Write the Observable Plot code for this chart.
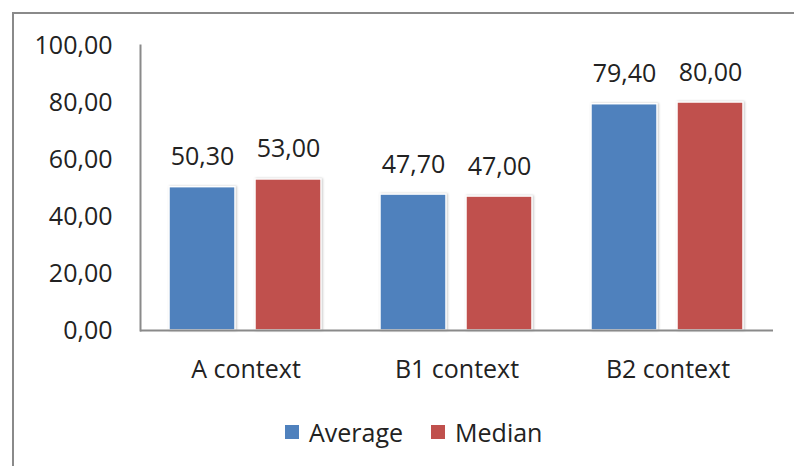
<!DOCTYPE html>
<html>
<head>
<meta charset="utf-8">
<script src="https://cdn.jsdelivr.net/npm/d3@7"></script>
<script src="https://cdn.jsdelivr.net/npm/@observablehq/plot@0.6"></script>
<style>
  body { margin: 0; background: #fff; }
  #wrap { position: relative; width: 794px; height: 466px; overflow: hidden; font-family: "Open Sans", sans-serif; }
  #border { position: absolute; left: 12px; top: 12px; width: 800px; height: 470px; border-top: 2px solid #8a8a8a; border-left: 2px solid #8a8a8a; pointer-events: none; }
  #chart { position: absolute; left: 0; top: 0; }
  .bars rect { filter: drop-shadow(1.5px 0px 1px rgba(0,0,0,0.22)); }
  #legend { position: absolute; top: 415px; left: 285px; display: flex; align-items: center; font-size: 25px; color: #222; }
  #legend .sw { width: 14px; height: 14px; display: inline-block; margin-right: 10px; }
  #legend .item { display: flex; align-items: center; margin-right: 28px; }
</style>
</head>
<body>
<div id="wrap">
  <div id="chart"></div>
  <div id="legend"></div>
  <div id="border"></div>
</div>
<script>
const categories = ["A context", "B1 context", "B2 context"];
const seriesNames = ["Average", "Median"];
const averageValues = [50.3, 47.7, 79.4];
const medianValues = [53.0, 47.0, 80.0];
const yTicks = [0, 20, 40, 60, 80, 100];
const colors = ["#4F81BD", "#C0504D"];

const data = [];
categories.forEach((c, i) => {
  data.push({context: c, series: "Average", value: averageValues[i]});
  data.push({context: c, series: "Median", value: medianValues[i]});
});
const fmt = v => d3.format(".2f")(v).replace(".", ",");

const plot = Plot.plot({
  width: 794,
  height: 400,
  marginLeft: 140,
  marginRight: 21,
  marginTop: 45,
  marginBottom: 70,
  style: { fontFamily: "Open Sans, sans-serif", fontSize: "25px", color: "#222", background: "transparent" },
  fx: { domain: categories, padding: 0, label: null },
  x: { domain: seriesNames, paddingInner: 0.23, paddingOuter: 0.328, axis: null },
  y: { domain: [0, 100], label: null },
  color: { domain: seriesNames, range: colors },
  marks: [
    Plot.axisY({ ticks: yTicks, tickFormat: fmt, tickSize: 0, tickPadding: 28, fontSize: 25, fill: "#222", label: null }),
    Plot.axisFx({ anchor: "bottom", tickSize: 0, tickPadding: 30, fontSize: 25, fill: "#222", label: null }),
    Plot.barY(data, { fx: "context", x: "series", y: "value", fill: "series", stroke: "white", strokeWidth: 1.5, className: "bars" }),
    Plot.text(data, { fx: "context", x: "series", y: "value", text: d => fmt(d.value), dy: -30, fontSize: 25, fill: "#222" }),
    Plot.ruleY([0], { stroke: "#8a8a8a", strokeWidth: 2 }),
    Plot.frame({ anchor: "left", facetAnchor: "left", stroke: "#8a8a8a", strokeWidth: 2 })
  ]
});
document.getElementById("chart").appendChild(plot);

const legend = document.getElementById("legend");
seriesNames.forEach((s, i) => {
  const item = document.createElement("div");
  item.className = "item";
  item.innerHTML = `<span class="sw" style="background:${colors[i]}"></span><span>${s}</span>`;
  legend.appendChild(item);
});
</script>
</body>
</html>
